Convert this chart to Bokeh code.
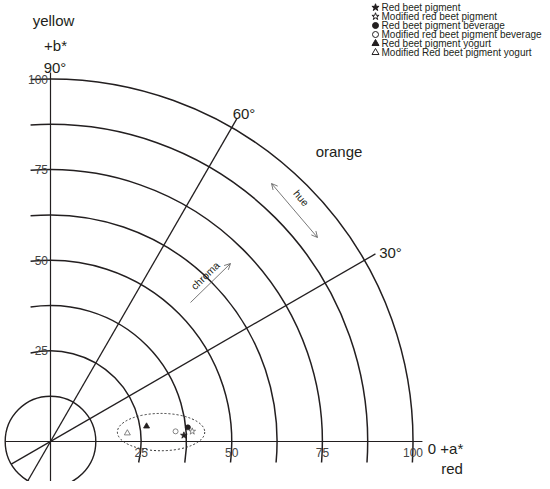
import math
from bokeh.plotting import figure
from bokeh.models import Range1d, Arrow, OpenHead
from bokeh.core.properties import value
from bokeh.embed import file_html
from bokeh.resources import INLINE

# ---------------- data ----------------
samples = ["Red beet pigment", "Modified red beet pigment",
           "Red beet pigment beverage", "Modified red beet pigment beverage",
           "Red beet pigment yogurt", "Modified Red beet pigment yogurt"]
a_star = [36.8, 39.1, 37.9, 34.5, 26.5, 21.2]
b_star = [1.7, 2.8, 3.9, 2.8, 4.2, 2.3]
sample_markers = ["star", "star", "circle", "circle", "triangle", "triangle"]
sample_filled = [True, False, True, False, True, False]

chroma_rings = [25, 37.5, 50, 62.5, 75, 87.5, 100]
inner_circle = 12.5
hue_lines = [30, 60]
hue_labels = ["30°", "60°"]
tick_values = [25, 50, 75, 100]
tick_labels = ["25", "50", "75", "100"]
group_center = (30.5, 2.6)
group_size = (24.1, 10.3)

# ---------------- layout ----------------
W, H = 542, 481
S = 3.625            # px per unit
OX, OY = 50, 441     # origin in image px

def PX(px):
    return (px - OX) / S

def PY(py):
    return (OY - py) / S

x0 = PX(0); x1 = PX(W)
y0 = PY(H); y1 = PY(0)

FONT = value("Liberation Sans")
INK = "#231f20"

p = figure(width=W, height=H, x_range=Range1d(x0, x1), y_range=Range1d(y0, y1),
           output_backend="svg", toolbar_location=None,
           x_axis_type=None, y_axis_type=None, min_border=0,
           outline_line_color=None, background_fill_color="white",
           border_fill_color="white")
p.xgrid.visible = False
p.ygrid.visible = False

# axes lines
p.line([-inner_circle, 102.6], [0, 0], line_color=INK, line_width=1.2)
p.line([0, 0], [-inner_circle, 101.8], line_color=INK, line_width=1.2)

# inner full circle
p.arc(x=[0], y=[0], radius=inner_circle, start_angle=0, end_angle=2 * math.pi,
      line_color=INK, line_width=1.4)

# chroma arcs (extend slightly past the axes)
starts = [-math.asin(5.8 / r) for r in chroma_rings]
ends = [math.pi / 2 + math.asin(5.5 / r) for r in chroma_rings]
p.arc(x=[0] * len(chroma_rings), y=[0] * len(chroma_rings), radius=chroma_rings,
      start_angle=starts, end_angle=ends, line_color=INK, line_width=1.5)

# hue lines through origin
for ang, rmax in zip(hue_lines, [103.5, 103.0]):
    t = math.radians(ang)
    p.line([-inner_circle * math.cos(t), rmax * math.cos(t)],
           [-inner_circle * math.sin(t), rmax * math.sin(t)],
           line_color=INK, line_width=1.3)

# tick labels
p.text(x=tick_values, y=[PY(452)] * 4, text=tick_labels, text_font=FONT,
       text_font_size="12px", text_align="center", text_baseline="middle",
       text_color="#444444")
p.text(x=[PX(47.5)] * 4, y=tick_values, text=tick_labels, text_font=FONT,
       text_font_size="12px", text_align="right", text_baseline="middle",
       text_color="#444444")

# big labels
p.text(x=[PX(53), PX(55), PX(54.5)], y=[PY(19.5), PY(44.5), PY(66.5)],
       text=["yellow", "+b*", "90°"], text_font=FONT, text_font_size="15px",
       text_align="center", text_baseline="alphabetic", text_color=INK)
p.text(x=[PX(338.5)], y=[PY(150.7)], text=["orange"], text_font=FONT,
       text_font_size="15px", text_align="center", text_baseline="alphabetic",
       text_color=INK)
p.text(x=[PX(243.5), PX(390)], y=[PY(113), PY(251.7)], text=[hue_labels[1], hue_labels[0]],
       text_font=FONT, text_font_size="15px", text_align="center",
       text_baseline="alphabetic", text_color=INK)
p.text(x=[PX(427.3), PX(440.7)], y=[PY(448), PY(467.7)], text=["0 +a*", "red"],
       text_font=FONT, text_font_size="15px", text_align="left",
       text_baseline="alphabetic", text_color=INK)

# chroma arrow
p.add_layout(Arrow(end=OpenHead(size=6, line_width=0.8, line_color="#555555"),
                   x_start=PX(190), y_start=PY(302), x_end=PX(230), y_end=PY(263),
                   line_color="#555555", line_width=0.8))
p.text(x=[PX(204.5)], y=[PY(275)], text=["chroma"], angle=[math.radians(44)],
       text_font=FONT, text_font_size="10.5px", text_align="center",
       text_baseline="middle", text_color=INK)

# hue double arrow
p.add_layout(Arrow(start=OpenHead(size=6, line_width=0.8, line_color="#555555"),
                   end=OpenHead(size=6, line_width=0.8, line_color="#555555"),
                   x_start=PX(271), y_start=PY(183), x_end=PX(317), y_end=PY(237),
                   line_color="#555555", line_width=0.8))
p.text(x=[PX(301)], y=[PY(197.5)], text=["hue"], angle=[math.radians(-50)],
       text_font=FONT, text_font_size="10.5px", text_align="center",
       text_baseline="middle", text_color=INK)

# dotted group ellipse
p.ellipse(x=[group_center[0]], y=[group_center[1]], width=group_size[0],
          height=group_size[1], fill_color=None, line_color="#333333",
          line_width=1, line_dash="2 2")

# sample points
sizes = {"star": 7, "circle": 5, "triangle": 6}
for a, b, m, f in zip(a_star, b_star, sample_markers, sample_filled):
    p.scatter([a], [b], marker=m, size=sizes[m],
              fill_color=INK if f else None,
              line_color=INK if f else "#666666", line_width=0.8)

# legend (manual)
leg_x_marker = PX(375)
leg_x_text = PX(381)
leg_rows = [7, 16, 25, 34, 43, 52]
leg_sizes = {"star": 7.5, "circle": 6, "triangle": 7}
for name, m, f, ry in zip(samples, sample_markers, sample_filled, leg_rows):
    p.scatter([leg_x_marker], [PY(ry)], marker=m, size=leg_sizes[m],
              fill_color=INK if f else "white", line_color=INK, line_width=1)
p.text(x=[leg_x_text] * 6, y=[PY(r) for r in leg_rows], text=samples,
       text_font=FONT, text_font_size="10px", text_align="left",
       text_baseline="middle", text_color=INK)

open("out.html", "w").write(file_html(p, INLINE))
